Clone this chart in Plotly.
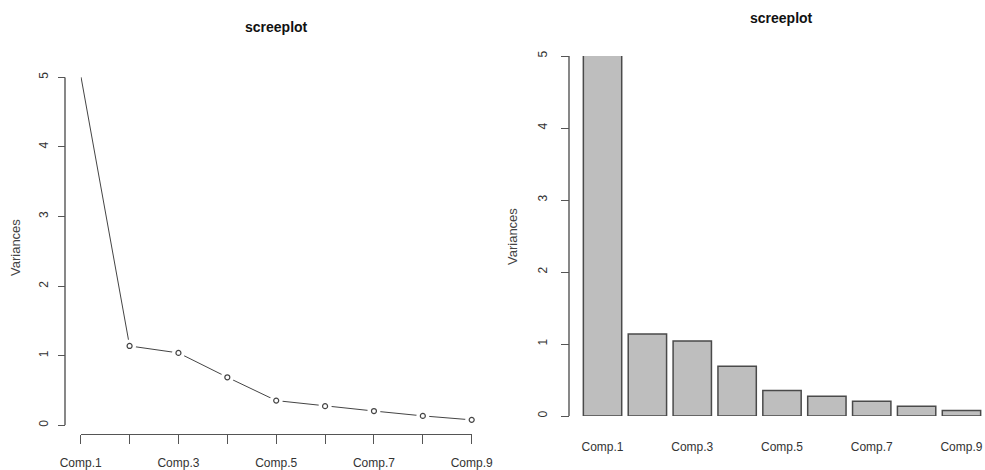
import plotly.graph_objects as go

# ---- data ----
components = ["Comp.1", "Comp.2", "Comp.3", "Comp.4", "Comp.5",
              "Comp.6", "Comp.7", "Comp.8", "Comp.9"]
variances = [5.03, 1.14, 1.04, 0.69, 0.355, 0.275, 0.205, 0.135, 0.078]
y_ticks = [0, 1, 2, 3, 4, 5]
title_text = "screeplot"
y_title = "Variances"

positions = list(range(1, len(components) + 1))
shown_labels = [c if i % 2 == 0 else "" for i, c in enumerate(components)]

W, H = 985, 470
def px(x):
    return x / W
def py(y):
    return (H - y) / H

FONT = "Liberation Sans, Arial, sans-serif"
AX = "#555555"
TXT = "#333333"

# panel geometry (pixels)
L_X0, L_X1 = 80.7, 471.7      # left x axis: first..last category
L_YB, L_YT = 425.3, 77.3      # left y axis: first..last tick
L_YAX, L_XAX = 65, 434        # left axis line positions
R_X0, R_X1 = 580.1, 983.9
R_YB, R_YT = 416, 56
R_YAX = 569

fig = go.Figure()

# ---- left: line screeplot ----
fig.add_trace(go.Scatter(x=positions, y=variances, mode="lines",
                         line=dict(color="#444444", width=1),
                         xaxis="x", yaxis="y", cliponaxis=False,
                         showlegend=False, hoverinfo="skip"))
fig.add_trace(go.Scatter(x=positions, y=variances, mode="markers",
                         marker=dict(symbol="circle", size=13, color="white",
                                     line=dict(width=0)),
                         xaxis="x", yaxis="y", cliponaxis=False,
                         showlegend=False, hoverinfo="skip"))
fig.add_trace(go.Scatter(x=positions, y=variances, mode="markers",
                         marker=dict(symbol="circle-open", size=5, color="#444444",
                                     line=dict(width=1.2)),
                         xaxis="x", yaxis="y", cliponaxis=False,
                         showlegend=False))

# ---- right: bar screeplot ----
fig.add_trace(go.Bar(x=positions, y=variances, width=0.855,
                     marker=dict(color="#bebebe", line=dict(color="#4a4a4a", width=1.5)),
                     xaxis="x2", yaxis="y2", cliponaxis=False, showlegend=False))

# ---- y axis lines (R style: first..last tick) drawn in thin helper subplots ----
y_span = [min(y_ticks), max(y_ticks)]
fig.add_trace(go.Scatter(x=[0, 0], y=y_span, mode="lines",
                         line=dict(color=AX, width=1.4),
                         xaxis="x3", yaxis="y3", cliponaxis=False,
                         showlegend=False, hoverinfo="skip"))
fig.add_trace(go.Scatter(x=[0, 0], y=y_span, mode="lines",
                         line=dict(color=AX, width=1.4),
                         xaxis="x4", yaxis="y4", cliponaxis=False,
                         showlegend=False, hoverinfo="skip"))

tickfont = dict(family=FONT, size=12, color=TXT)
hidden = dict(visible=False, showgrid=False, zeroline=False, automargin=False)

fig.update_layout(
    width=W, height=H,
    margin=dict(l=0, r=0, t=0, b=0, autoexpand=False),
    paper_bgcolor="white", plot_bgcolor="rgba(0,0,0,0)",
    font=dict(family=FONT, color=TXT),
    xaxis=dict(domain=[px(L_X0), px(L_X1)], range=[1, 9],
               anchor="free", position=py(L_XAX), automargin=False,
               tickmode="array", tickvals=positions, ticktext=shown_labels,
               showline=True, linecolor=AX, linewidth=1.2,
               ticks="outside", ticklen=9, tickcolor=AX, tickwidth=1.2,
               showgrid=False, zeroline=False, tickfont=tickfont,
               ticklabelstandoff=8),
    yaxis=dict(domain=[py(L_YB), py(L_YT)], range=y_span,
               anchor="free", position=px(L_YAX), automargin=False,
               tickmode="array", tickvals=y_ticks,
               showline=False,
               ticks="outside", ticklen=7, tickcolor=AX, tickwidth=1.2,
               tickangle=-90, showgrid=False, zeroline=False, tickfont=tickfont,
               ticklabelstandoff=5),
    xaxis2=dict(domain=[px(R_X0), px(R_X1)], range=[0.5, 9.5],
                anchor="y2", automargin=False,
                tickmode="array", tickvals=positions, ticktext=shown_labels,
                showline=False, ticks="", showgrid=False, zeroline=False,
                tickfont=tickfont, ticklabelstandoff=22),
    yaxis2=dict(domain=[py(R_YB), py(R_YT)], range=y_span,
                anchor="free", position=px(R_YAX), automargin=False,
                tickmode="array", tickvals=y_ticks,
                showline=False,
                ticks="outside", ticklen=8, tickcolor=AX, tickwidth=1.2,
                tickangle=-90, showgrid=False, zeroline=False, tickfont=tickfont,
                ticklabelstandoff=9),
    xaxis3=dict(domain=[px(L_YAX - 5), px(L_YAX + 5)], range=[-1, 1],
                anchor="y3", **hidden),
    yaxis3=dict(domain=[py(L_YB), py(L_YT)], range=y_span, anchor="x3", **hidden),
    xaxis4=dict(domain=[px(R_YAX - 5), px(R_YAX + 5)], range=[-1, 1],
                anchor="y4", **hidden),
    yaxis4=dict(domain=[py(R_YB), py(R_YT)], range=y_span, anchor="x4", **hidden),
    annotations=[
        dict(text="<b>" + title_text + "</b>", x=px(276), y=py(27),
             xref="paper", yref="paper", showarrow=False,
             xanchor="center", yanchor="middle",
             font=dict(family=FONT, size=14, color="#111111")),
        dict(text="<b>" + title_text + "</b>", x=px(781), y=py(18),
             xref="paper", yref="paper", showarrow=False,
             xanchor="center", yanchor="middle",
             font=dict(family=FONT, size=14, color="#111111")),
        dict(text=y_title, x=px(15), y=py(248), textangle=-90,
             xref="paper", yref="paper", showarrow=False,
             xanchor="center", yanchor="middle",
             font=dict(family=FONT, size=13, color="#444444")),
        dict(text=y_title, x=px(512), y=py(237), textangle=-90,
             xref="paper", yref="paper", showarrow=False,
             xanchor="center", yanchor="middle",
             font=dict(family=FONT, size=13, color="#444444")),
    ],
)

fig.write_html("out.html", config={"displayModeBar": False},
               post_script="document.body.style.margin='0';document.body.style.padding='0';")
